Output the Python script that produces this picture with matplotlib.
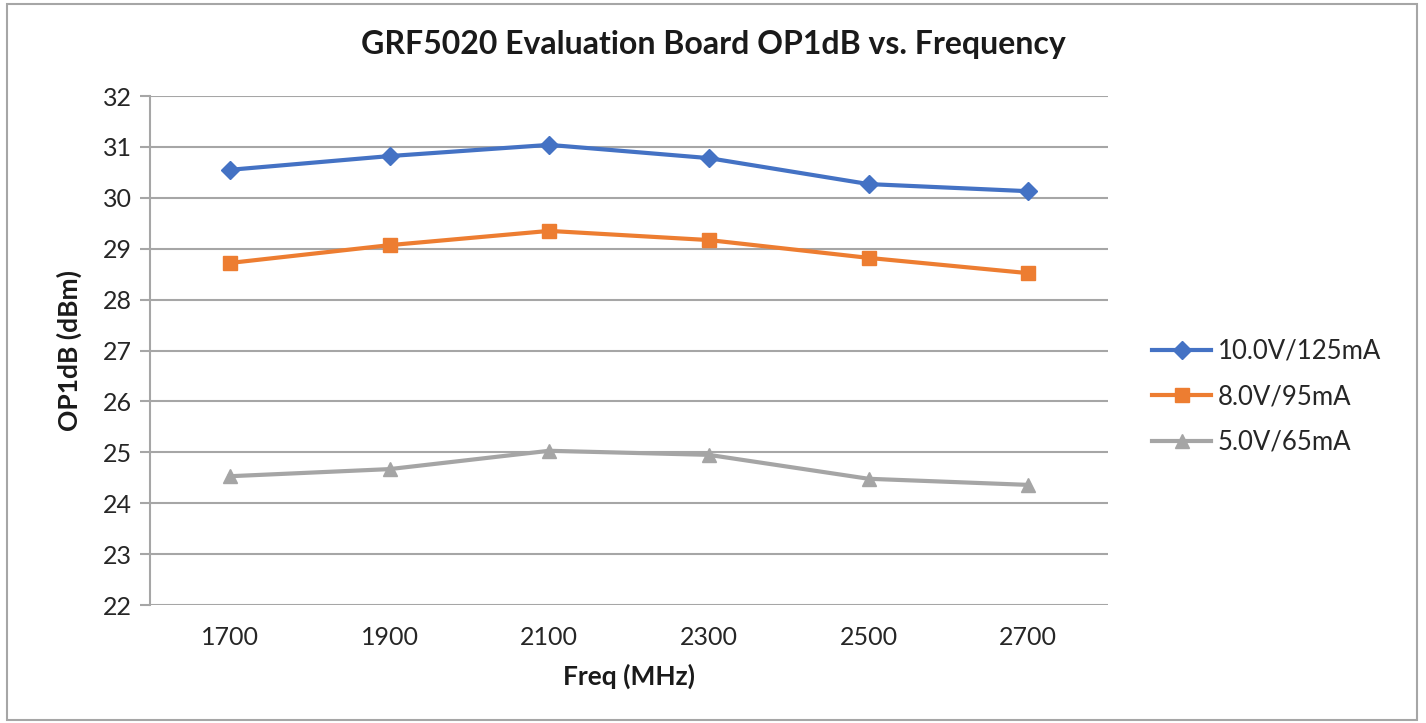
import matplotlib
matplotlib.use("Agg")
import matplotlib.pyplot as plt
from matplotlib.patches import Rectangle

plt.rcParams['font.family'] = ['Lato', 'DejaVu Sans']

# data
freqs = ['1700', '1900', '2100', '2300', '2500', '2700']
op1db_10v = [30.55, 30.82, 31.04, 30.78, 30.27, 30.13]
op1db_8v = [28.72, 29.07, 29.35, 29.17, 28.82, 28.52]
op1db_5v = [24.53, 24.67, 25.03, 24.95, 24.48, 24.36]
labels = ['10.0V/125mA', '8.0V/95mA', '5.0V/65mA']

fig = plt.figure(figsize=(14.26, 7.23), dpi=100)
ax = fig.add_axes([0.1052, 0.1632, 0.6718, 0.704])

x = list(range(len(freqs)))
ax.plot(x, op1db_10v, color='#4472C4', lw=3, marker='D', ms=9, label=labels[0])
ax.plot(x, op1db_8v, color='#ED7D31', lw=3, marker='s', ms=10, label=labels[1])
ax.plot(x, op1db_5v, color='#A5A5A5', lw=3, marker='^', ms=10, label=labels[2])

ax.set_xlim(-0.5, len(freqs) - 0.5)
ax.set_ylim(22, 32)
ax.set_yticks(range(22, 33))
ax.set_xticks(x)
ax.set_xticklabels(freqs)

ax.grid(axis='y', color='#A6A6A6', lw=1.5)
ax.set_axisbelow(True)
for s in ['top', 'right', 'bottom']:
    ax.spines[s].set_visible(False)
ax.spines['left'].set_color('#A6A6A6')
ax.spines['left'].set_linewidth(1.5)
ax.tick_params(axis='y', length=7, width=1.5, color='#A6A6A6', labelsize=18, pad=6, labelcolor='#262626')
ax.tick_params(axis='x', length=0, labelsize=18, pad=15, labelcolor='#262626')

fig.text(0.5, 0.938, 'GRF5020 Evaluation Board OP1dB vs. Frequency', fontsize=23,
         fontweight='bold', color='#1a1a1a', ha='center', va='center')
ax.set_xlabel('Freq (MHz)', fontsize=19, fontweight='bold', color='#1a1a1a', labelpad=11)
ax.set_ylabel('OP1dB (dBm)', fontsize=19, fontweight='bold', color='#1a1a1a', labelpad=15)

leg = ax.legend(loc='center left', bbox_to_anchor=(1.022, 0.409), frameon=False,
                fontsize=18.5, handlelength=2.3, labelspacing=0.8, handletextpad=0.25)
for t in leg.get_texts():
    t.set_color('#262626')

fig.patches.append(Rectangle((0.005, 0.004), 0.989, 0.99, transform=fig.transFigure,
                             fill=False, edgecolor='#A6A6A6', lw=1.5))

fig.savefig('out.png', dpi=100)
